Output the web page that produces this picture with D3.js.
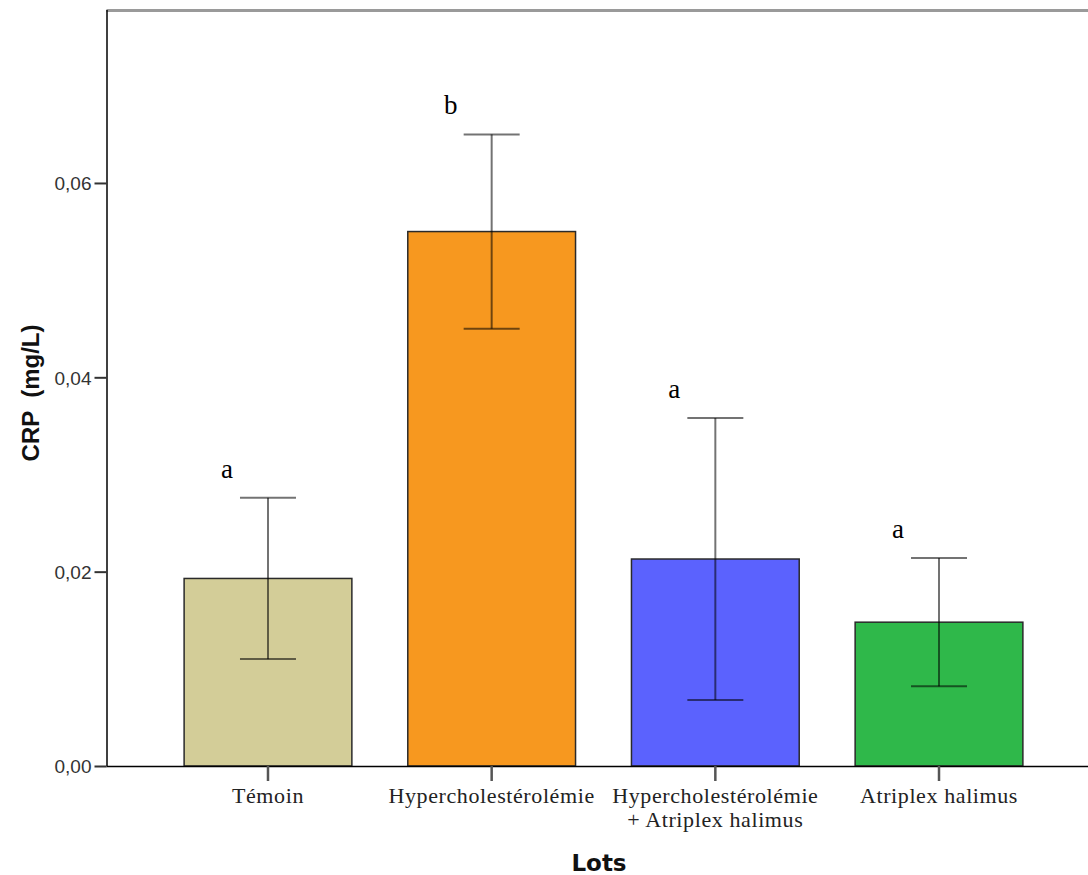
<!DOCTYPE html>
<html>
<head>
<meta charset="utf-8">
<script src="https://cdn.jsdelivr.net/npm/d3@7"></script>
<style>
  html, body { margin: 0; padding: 0; background: #fff; }
  svg { display: block; }
</style>
</head>
<body>
<svg id="chart" width="1088" height="875"></svg>
<script>
// CRP means per group with error bar half-widths and significance letters
const categories = ["Témoin", "Hypercholestérolémie", "Hypercholestérolémie\n+ Atriplex halimus", "Atriplex halimus"];
const means = [0.0193, 0.0550, 0.0213, 0.0148];
const errors = [0.0083, 0.0100, 0.0145, 0.0066];
const letters = ["a", "b", "a", "a"];
const colors = ["#d3cd98", "#f7981f", "#5b62fe", "#2fb84a"];
const yTicks = [0, 0.02, 0.04, 0.06];

const svg = d3.select("#chart");
const plotLeft = 106.5, plotTop = 10, plotBottom = 766, plotRight = 1100.5;

const x = d3.scaleBand().domain(categories).range([plotLeft, plotRight])
  .paddingInner(0.25).paddingOuter(0.347);
const y = d3.scaleLinear().domain([0, 0.0778]).range([plotBottom, plotTop]);

// top frame line
svg.append("line").attr("x1", plotLeft).attr("x2", 1088).attr("y1", plotTop + 0.5).attr("y2", plotTop + 0.5)
  .attr("stroke", "#9a9a9a").attr("stroke-width", 3);

// bars
svg.append("g").selectAll("rect").data(categories).join("rect")
  .attr("x", d => x(d))
  .attr("y", (d, i) => y(means[i]))
  .attr("width", x.bandwidth())
  .attr("height", (d, i) => y(0) - y(means[i]))
  .attr("fill", (d, i) => colors[i])
  .attr("stroke", "#2a2a2a").attr("stroke-width", 1.5);

// error bars
const cap = 28;
const eb = svg.append("g").attr("stroke", "#000").attr("stroke-opacity", 0.55).attr("stroke-width", 2);
categories.forEach((c, i) => {
  const cx = x(c) + x.bandwidth() / 2;
  const hi = y(means[i] + errors[i]), lo = y(means[i] - errors[i]);
  eb.append("line").attr("x1", cx).attr("x2", cx).attr("y1", hi).attr("y2", lo);
  eb.append("line").attr("x1", cx - cap).attr("x2", cx + cap).attr("y1", hi).attr("y2", hi);
  eb.append("line").attr("x1", cx - cap).attr("x2", cx + cap).attr("y1", lo).attr("y2", lo);
});

// significance letters
svg.append("g").selectAll("text").data(categories).join("text")
  .attr("x", d => x(d) + x.bandwidth() / 2 - 41)
  .attr("y", (d, i) => y(means[i] + errors[i]) - 20)
  .attr("text-anchor", "middle")
  .attr("font-family", "'Liberation Serif', 'Times New Roman', serif")
  .attr("font-size", 27).attr("fill", "#000")
  .text((d, i) => letters[i]);

// y axis
const yAxis = svg.append("g").attr("transform", `translate(${plotLeft},0)`)
  .call(d3.axisLeft(y).tickValues(yTicks).tickSize(12).tickSizeOuter(0)
    .tickFormat(d => d3.format(".2f")(d).replace(".", ",")));
yAxis.select(".domain").attr("stroke", "#000").attr("stroke-width", 1.5)
  .attr("d", `M0.5,${plotTop}V${plotBottom}`);
yAxis.selectAll(".tick line").attr("stroke", "#333").attr("stroke-width", 2);
yAxis.selectAll(".tick text").attr("font-family", "'Liberation Sans', Arial, sans-serif")
  .attr("font-size", 19).attr("fill", "#333").attr("x", -15).attr("dy", "0.36em");

// x axis
const xAxis = svg.append("g").attr("transform", `translate(0,${plotBottom})`)
  .call(d3.axisBottom(x).tickSize(15).tickSizeOuter(0).tickFormat(""));
xAxis.select(".domain").attr("stroke", "#000").attr("stroke-width", 1.5)
  .attr("d", `M${plotLeft},0.5H1088`);
xAxis.selectAll(".tick line").attr("stroke", "#555").attr("stroke-width", 2.5);

// x tick labels, multi-line
const xl = svg.append("g");
categories.forEach(c => {
  const cx = x(c) + x.bandwidth() / 2;
  const t = xl.append("text").attr("x", cx).attr("y", plotBottom + 37)
    .attr("text-anchor", "middle")
    .attr("font-family", "'Liberation Serif', 'Times New Roman', serif")
    .attr("font-size", 22).attr("letter-spacing", 0.6).attr("fill", "#222");
  c.split("\n").forEach((line, k) => {
    t.append("tspan").attr("x", cx).attr("dy", k === 0 ? 0 : 24).text(line);
  });
});

// axis titles
svg.append("text").attr("x", 599).attr("y", 871).attr("text-anchor", "middle")
  .attr("font-family", "'DejaVu Sans', Verdana, sans-serif").attr("font-weight", "bold")
  .attr("font-size", 23).attr("fill", "#111").text("Lots");

svg.append("text").attr("transform", `translate(39,393) rotate(-90)`)
  .attr("text-anchor", "middle")
  .attr("font-family", "'Liberation Sans', Arial, sans-serif").attr("font-weight", "bold")
  .attr("font-size", 24).attr("fill", "#111").attr("xml:space", "preserve")
  .text("CRP  (mg/L)");
</script>
</body>
</html>
